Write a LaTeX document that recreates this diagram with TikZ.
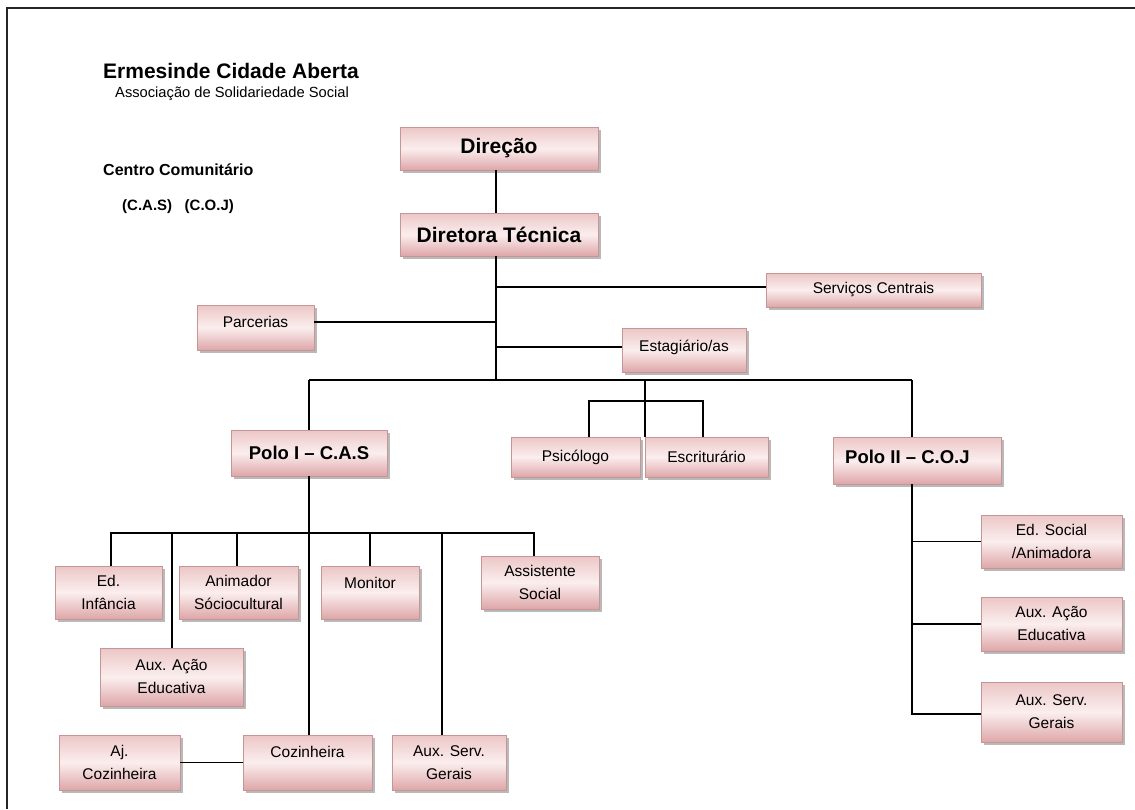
\documentclass[tikz,border=0pt]{standalone}
\usepackage{fontspec}
\setmainfont{Liberation Sans}
\usetikzlibrary{shadows}
\definecolor{bxtop}{RGB}{236,198,198}
\definecolor{bxmid}{RGB}{251,238,238}
\definecolor{bxbot}{RGB}{222,166,168}
\definecolor{bxline}{RGB}{196,150,150}
\newcommand\btxt{\fontsize{15.5}{23}\selectfont}
\newcommand\bigb{\fontsize{21}{25}\selectfont\bfseries}
\newcommand\polob{\fontsize{18.5}{22}\selectfont\bfseries}
\begin{document}
\begin{tikzpicture}[x=1pt,y=-1pt,
  box/.style={draw=bxline, line width=0.6pt, top color=bxtop, bottom color=bxbot, middle color=bxmid,
    drop shadow={shadow xshift=2.5pt, shadow yshift=-2.5pt, fill=black!50, opacity=0.55},
    inner sep=0pt, align=center, font=\btxt},
  conn/.style={line width=1.1pt, black},
  plain/.style={inner sep=0pt, align=center, font=\btxt}]
\useasboundingbox (0,0) rectangle (1135,809);
% frame
\draw[line width=2pt, black!85] (7,809) -- (7,8) -- (1135,8);
% header texts
\node[anchor=base west, inner sep=0pt, font=\bigb] (title) at (103,78) {Ermesinde Cidade Aberta};
\node[anchor=base west, inner sep=0pt, font=\fontsize{14.7}{17}\selectfont] (sub) at (115,97) {Associação de Solidariedade Social};
\node[anchor=base west, inner sep=0pt, font=\fontsize{16}{19}\selectfont\bfseries] (centro) at (103,175) {Centro Comunitário};
\node[anchor=base west, inner sep=0pt, font=\fontsize{15}{18}\selectfont\bfseries] (siglas) at (122,210) {(C.A.S)\ \ \ (C.O.J)};
% boxes
\node[box, font=\bigb, minimum width=198, minimum height=43] (dir) at (499,148.5) {Direção};
\node[box, font=\bigb, minimum width=198, minimum height=43] (dt) at (499,234.5) {Diretora Técnica};
\node[box, minimum width=215, minimum height=34] (serv) at (873.5,290) {Serviços Centrais};
\node[box, minimum width=117, minimum height=45] (parc) at (255.5,327.5) {};
\node[plain] (parcT) at (255.5,322) {Parcerias};
\node[box, minimum width=124, minimum height=44] (estag) at (684,350) {};
\node[plain] (estagT) at (684,347) {Estagiário/as};
\node[box, font=\polob, minimum width=156, minimum height=46] (polo1) at (309,453) {Polo I – C.A.S};
\node[box, minimum width=129, minimum height=40] (psic) at (575.5,457) {Psicólogo};
\node[box, minimum width=123, minimum height=40] (escr) at (706.5,457) {Escriturário};
\node[box, minimum width=168, minimum height=47] (polo2) at (917,460.5) {};
\node[plain, font=\polob, anchor=west] (polo2T) at (845,457) {Polo II – C.O.J};
% Polo I children
\node[box, minimum width=107, minimum height=53] (edinf) at (108.5,592.5) {Ed.\\Infância};
\node[box, minimum width=119, minimum height=53] (anim) at (238.5,592.5) {Animador\\Sóciocultural};
\node[box, minimum width=98, minimum height=53] (monit) at (370,592.5) {};
\node[plain] (monitT) at (370,583) {Monitor};
\node[box, minimum width=118, minimum height=53] (assist) at (540,582.5) {Assistente\\Social};
\node[box, minimum width=143, minimum height=58] (auxae1) at (171.5,677) {Aux. Ação\\Educativa};
\node[box, minimum width=121, minimum height=55] (ajcoz) at (119.5,762.5) {Aj.\\Cozinheira};
\node[box, minimum width=129, minimum height=55] (coz) at (307.5,762.5) {};
\node[plain] (cozT) at (307.5,752) {Cozinheira};
\node[box, minimum width=114, minimum height=55] (auxsg1) at (449,762.5) {Aux. Serv.\\Gerais};
% Polo II children
\node[box, minimum width=141, minimum height=53] (edsoc) at (1051.5,541.5) {Ed. Social\\/Animadora};
\node[box, minimum width=141, minimum height=54] (auxae2) at (1051.5,624) {Aux. Ação\\Educativa};
\node[box, minimum width=141, minimum height=60] (auxsg2) at (1051.5,712) {Aux. Serv.\\Gerais};
% connectors: top
\coordinate (trunk) at (496,380);
\draw[conn] (496,0 |- dir.south) coordinate (a1) -- (a1 |- dt.north);
\draw[conn] (a1 |- dt.south) -- (trunk);
\draw[conn] (a1 |- serv.west) ++(0,-3) coordinate (s1) -- (s1 -| serv.west);
\draw[conn] (parc.east |- parcT) -- (a1 |- parcT);
\draw[conn] (estag.west |- estagT) -- (a1 |- estagT);
% main bus
\coordinate (busL) at (309,380);
\coordinate (busR) at (912,380);
\draw[conn] (busL) -- (busR);
\draw[conn] (busL) -- (polo1.north);
\draw[conn] (busR) -- (busR |- polo2.north);
% psychologist group
\coordinate (pc) at (645,380);
\coordinate (pl) at (589,401);
\coordinate (pr) at (703,401);
\draw[conn] (pc) -- (pc |- psic.north);
\draw[conn] (pl |- psic.north) -- (pl) -- (pr) -- (pr |- escr.north);
% Polo I subtree
\coordinate (b1L) at (111,533);
\coordinate (b1R) at (534,533);
\draw[conn] (polo1.south) -- (coz.north -| polo1.south);
\draw[conn] (b1L |- edinf.north) -- (b1L) -- (b1R) -- (b1R |- assist.north);
\draw[conn] (172,533) -- (172,0 |- auxae1.north);
\draw[conn] (237,533) -- (237,0 |- anim.north);
\draw[conn] (370,533) -- (monit.north);
\draw[conn] (442,533) -- (442,0 |- auxsg1.north);
\draw[conn] (coz.west) -- (ajcoz.east);
% Polo II subtree
\coordinate (p2b) at (912,714);
\draw[conn] (busR |- polo2.south) -- (p2b) -- (p2b -| auxsg2.west);
\draw[conn] (p2b |- edsoc.west) -- (edsoc.west);
\draw[conn] (p2b |- auxae2.west) -- (auxae2.west);
\end{tikzpicture}
\end{document}
